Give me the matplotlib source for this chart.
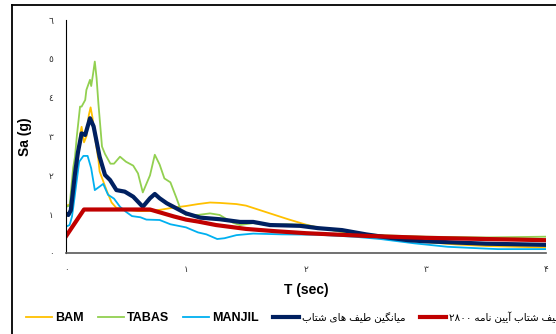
import matplotlib
matplotlib.use("Agg")
import matplotlib.pyplot as plt
from matplotlib.lines import Line2D

plt.rcParams['font.family'] = ['Liberation Sans', 'DejaVu Sans']

# response spectra (T in sec, Sa in g)
t_bam = [0, 0.04, 0.07, 0.10, 0.12, 0.13, 0.15, 0.17, 0.19, 0.205, 0.22, 0.24, 0.27, 0.28, 0.31,
         0.34, 0.38, 0.42, 0.5, 0.6, 0.7, 0.8, 0.9, 1.0, 1.1, 1.2, 1.28, 1.42, 1.5, 1.62, 1.7,
         1.85, 2.0, 2.14, 2.37, 2.55, 2.7, 3.0, 3.25, 3.5, 4.0]
sa_bam = [1.22, 1.25, 1.9, 2.6, 3.1, 3.25, 2.85, 3.0, 3.55, 3.75, 3.5, 3.0, 2.4, 2.1, 1.85,
          1.6, 1.3, 1.16, 1.12, 1.08, 1.08, 1.12, 1.17, 1.21, 1.26, 1.3, 1.29, 1.26, 1.22, 1.1, 1.02,
          0.87, 0.73, 0.63, 0.51, 0.45, 0.4, 0.28, 0.22, 0.18, 0.14]

t_tabas = [0, 0.03, 0.06, 0.075, 0.09, 0.117, 0.13, 0.16, 0.17, 0.2, 0.21, 0.225, 0.24, 0.255,
           0.27, 0.3, 0.325, 0.37, 0.4, 0.45, 0.5, 0.56, 0.6, 0.64, 0.7, 0.74, 0.78, 0.82, 0.87,
           0.92, 0.96, 1.0, 1.1, 1.2, 1.28, 1.39, 1.45, 1.56, 1.7, 1.84, 2.0, 2.12, 2.29, 2.45,
           2.7, 3.0, 3.5, 4.0]
sa_tabas = [1.19, 1.22, 2.2, 2.48, 3.0, 3.77, 3.77, 3.94, 4.2, 4.46, 4.3, 4.6, 4.93, 4.5,
            3.85, 2.74, 2.55, 2.3, 2.3, 2.48, 2.35, 2.25, 2.05, 1.56, 2.0, 2.53, 2.28, 1.92, 1.82,
            1.42, 1.08, 0.98, 0.98, 1.02, 0.98, 0.78, 0.72, 0.77, 0.72, 0.74, 0.72, 0.64, 0.55, 0.49,
            0.45, 0.42, 0.4, 0.42]

t_manjil = [0, 0.03, 0.05, 0.07, 0.09, 0.11, 0.145, 0.18, 0.21, 0.24, 0.28, 0.31, 0.35, 0.4,
            0.45, 0.5, 0.55, 0.62, 0.67, 0.78, 0.87, 1.0, 1.1, 1.17, 1.26, 1.32, 1.42, 1.56, 1.8,
            2.1, 2.4, 2.62, 2.9, 3.18, 3.45, 3.6, 4.0]
sa_manjil = [0.68, 0.72, 0.94, 1.4, 1.88, 2.35, 2.5, 2.5, 2.18, 1.62, 1.71, 1.78, 1.5, 1.4,
             1.19, 1.06, 0.95, 0.92, 0.86, 0.85, 0.74, 0.66, 0.53, 0.48, 0.36, 0.38, 0.46, 0.5, 0.48,
             0.47, 0.42, 0.36, 0.25, 0.16, 0.12, 0.1, 0.1]

t_mean = [0, 0.02, 0.04, 0.075, 0.1, 0.13, 0.16, 0.2, 0.23, 0.28, 0.325, 0.367, 0.42, 0.49,
          0.56, 0.64, 0.7, 0.74, 0.78, 0.84, 0.92, 1.0, 1.12, 1.28, 1.45, 1.56, 1.7, 1.95, 2.1,
          2.3, 2.5, 2.7, 2.85, 3.0, 3.5, 4.0]
sa_mean = [1.0, 0.98, 1.1, 2.05, 2.6, 3.08, 3.04, 3.47, 3.26, 2.48, 2.01, 1.88, 1.62, 1.58,
           1.45, 1.19, 1.41, 1.52, 1.41, 1.28, 1.15, 1.02, 0.91, 0.87, 0.8, 0.8, 0.72, 0.7, 0.64,
           0.59, 0.48, 0.39, 0.33, 0.3, 0.24, 0.21]

t_code = [0, 0.15, 0.7, 0.8, 0.9, 1.0, 1.1, 1.25, 1.5, 1.75, 2.0, 2.5, 3.0, 3.5, 4.0]
sa_code = [0.43, 1.12, 1.12, 1.03, 0.94, 0.86, 0.81, 0.72, 0.62, 0.56, 0.51, 0.44, 0.39, 0.36, 0.33]

x_ticks = [0, 1, 2, 3, 4]
x_labels = ['\u0660', '\u0661', '\u0662', '\u0663', '\u06f4']
y_ticks = [0, 1, 2, 3, 4, 5, 6]
y_labels = ['\u0660', '\u0661', '\u0662', '\u0663', '\u0664', '\u0665', '\u0666']

# Persian legend labels, written in visual order with Arabic presentation forms
# "میانگین طیف های شتاب"
label_mean = ('\ufe8f\ufe8e\ufe98\ufeb7 \ufbfc\ufe8e\ufeeb \ufed2\ufbff\ufec3 '
              '\ufee6\ufbff\ufb95\ufee7\ufe8e\ufbff\ufee3')
# "طیف شتاب آیین نامه ۲۸۰۰"
label_code = ('\u06f2\u06f8\u06f0\u06f0 \ufeea\ufee3\ufe8e\ufee7 \ufee6\ufbff\ufbfe\ufe81 '
              '\ufe8f\ufe8e\ufe98\ufeb7 \ufed2\ufbff\ufec3')

fig = plt.figure(figsize=(5.56, 3.34), dpi=100)
ax = fig.add_axes([66 / 556, 81 / 334, 480 / 556, 233 / 334])

ax.plot(t_bam, sa_bam, color='#FFC000', lw=1.3, label='BAM')
ax.plot(t_tabas, sa_tabas, color='#92D050', lw=1.3, label='TABAS')
ax.plot(t_manjil, sa_manjil, color='#00B0F0', lw=1.3, label='MANJIL')
ax.plot(t_mean, sa_mean, color='#002060', lw=3.0, label=label_mean)
ax.plot(t_code, sa_code, color='#C00000', lw=3.0, label=label_code)

ax.set_xlim(0, 4)
ax.set_ylim(0, 6)
ax.set_xticks(x_ticks)
ax.set_xticklabels(x_labels, fontsize=6.5, color='#333333', family='DejaVu Sans')
ax.set_yticks(y_ticks)
ax.set_yticklabels(y_labels, fontsize=6.5, color='#333333', family='DejaVu Sans')
ax.tick_params(length=0)
ax.tick_params(axis='y', pad=9)
ax.tick_params(axis='x', pad=9)

for side in ['top', 'right']:
    ax.spines[side].set_visible(False)
ax.spines['left'].set_color('#000000')
ax.spines['left'].set_linewidth(0.8)
ax.spines['bottom'].set_color('#595959')
ax.spines['bottom'].set_linewidth(1.2)

ax.set_xlabel('T (sec)', fontsize=10, fontweight='bold', va='center')
ax.xaxis.set_label_coords(0.5, (253 - 290) / 233)
ax.set_ylabel('Sa (g)', fontsize=10, fontweight='bold', va='center')
ax.yaxis.set_label_coords((25 - 66) / 480, 0.5)

leg = fig.legend(loc='center left', bbox_to_anchor=(26 / 556, 1 - 318 / 334), ncol=5,
                 frameon=False, borderpad=0, borderaxespad=0, handlelength=2.1,
                 handletextpad=0.25, columnspacing=1.1,
                 prop={'size': 9, 'weight': 'bold'})
for txt in leg.get_texts()[3:]:
    txt.set_fontweight('normal')
    txt.set_fontsize(7.5)

# outer frame of the original picture (left and top edges visible)
fig.add_artist(Line2D([11.5 / 556, 11.5 / 556], [0, 1 - 4.5 / 334], transform=fig.transFigure,
                      color='#000000', lw=1.3))
fig.add_artist(Line2D([11.5 / 556, 1.0], [1 - 4.5 / 334, 1 - 4.5 / 334], transform=fig.transFigure,
                      color='#000000', lw=1.3))

fig.savefig('out.png', dpi=100)
